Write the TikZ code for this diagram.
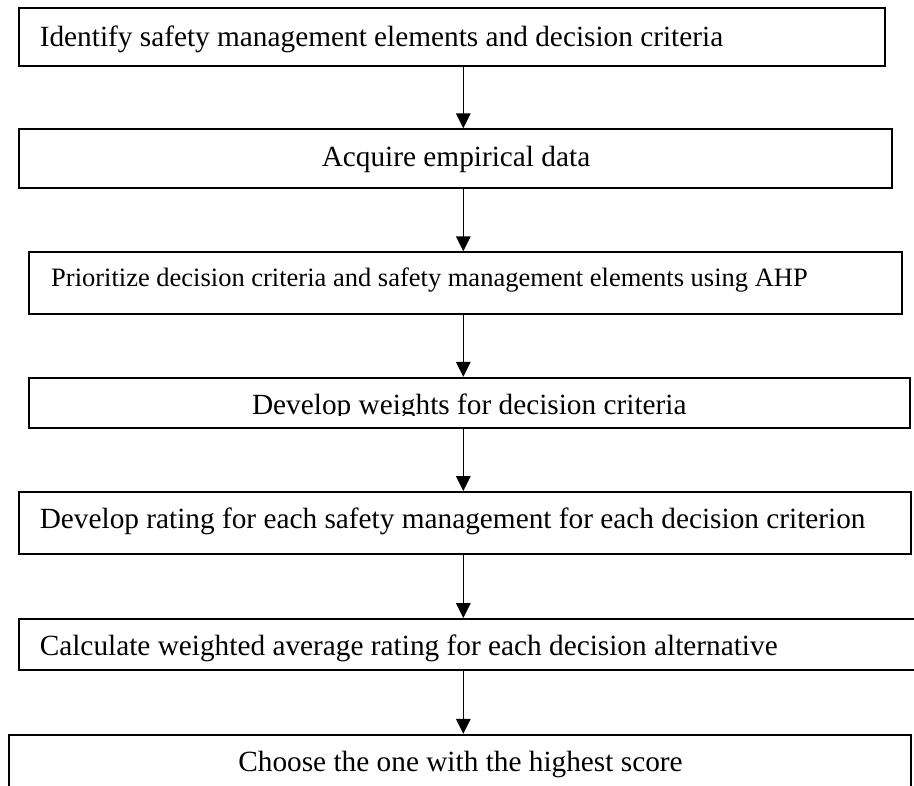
\documentclass[tikz,border=0pt]{standalone}
\usepackage{fontspec}
\setmainfont{Liberation Serif}
\usetikzlibrary{arrows.meta}
\begin{document}
\begin{tikzpicture}[x=1pt,y=-1pt,
  box/.style={draw=black, line width=1.8pt, rectangle, inner sep=0pt},
  label/.style={inner sep=0pt, font=\fontsize{29.3}{34}\selectfont},
  smalllabel/.style={inner sep=0pt, font=\fontsize{26.5}{31}\selectfont},
  flow/.style={line width=1.6pt, -{Triangle[width=14.5pt,length=15pt]}}]
  \clip (0,0) rectangle (914,786);
  \fill[white] (0,0) rectangle (914,786);
  % step boxes
  \node[box, minimum width=865.4pt, minimum height=57.4pt] (b1) at (452,37) {};
  \node[box, minimum width=873pt,   minimum height=58.4pt] (b2) at (455.8,158.5) {};
  \node[box, minimum width=872.4pt, minimum height=61.4pt] (b3) at (465.5,283) {};
  \node[box, minimum width=880.4pt, minimum height=50pt]   (b4) at (469.5,402.7) {};
  \node[box, minimum width=892pt,   minimum height=62.3pt] (b5) at (465.3,523.15) {};
  \node[box, minimum width=910.7pt, minimum height=51pt]   (b6) at (474.65,644.5) {};
  \node[box, minimum width=902pt,   minimum height=85.3pt] (b7) at (460.3,777.35) {};
  % step texts
  \node[label, anchor=base west] (t1) at (39.6,46.5) {Identify safety management elements and decision criteria};
  \node[label, anchor=base] (t2) at (456,167) {Acquire empirical data};
  \node[smalllabel, anchor=base west] (t3) at (51,287) {Prioritize decision criteria and safety management elements using AHP};
  % the text frame of this step cuts off the descenders
  \coordinate (cut) at (0,415.5);
  \begin{scope}
    \clip (b4.north west) rectangle (b4.east |- cut);
    \node[label, anchor=base] (t4) at (469.3,414.5) {Develop weights for decision criteria};
  \end{scope}
  \node[label, anchor=base west] (t5) at (39.6,528.5) {Develop rating for each safety management for each decision criterion};
  \node[label, anchor=base west] (t6) at (39.6,655) {Calculate weighted average rating for each decision alternative};
  \node[label, anchor=base] (t7) at (460.5,771.5) {Choose the one with the highest score};
  % connectors share one vertical line
  \coordinate (ax) at (463.3,0);
  \draw[flow] (b1.south -| ax) -- (b2.north -| ax);
  \draw[flow] (b2.south -| ax) -- (b3.north -| ax);
  \draw[flow] (b3.south -| ax) -- (b4.north -| ax);
  \draw[flow] (b4.south -| ax) -- (b5.north -| ax);
  \draw[flow] (b5.south -| ax) -- (b6.north -| ax);
  \draw[flow] (b6.south -| ax) -- (b7.north -| ax);
\end{tikzpicture}
\end{document}
